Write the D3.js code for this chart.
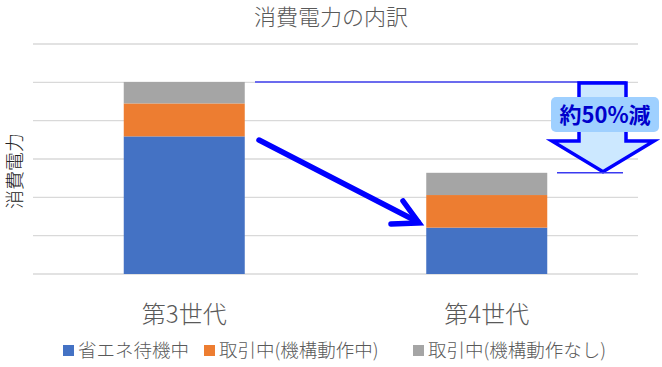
<!DOCTYPE html>
<html>
<head>
<meta charset="utf-8">
<script src="https://cdn.jsdelivr.net/npm/d3@7"></script>
<style>
  body { margin: 0; background: #fff; }
  svg text { font-family: "Noto Sans CJK JP", "Noto Sans", sans-serif; }
</style>
</head>
<body>
<svg id="canvas" width="662" height="367"></svg>
<script>
// chart data
let categories = ['第3世代', '第4世代']
let seriesNames = ['省エネ待機中', '取引中(機構動作中)', '取引中(機構動作なし)']
let standby = [3.59, 1.21]
let moving = [0.86, 0.85]
let idle = [0.56, 0.58]
let yTicks = [0, 1, 2, 3, 4, 5, 6]

let colors = ['#4472C4', '#ED7D31', '#A5A5A5']
let textColor = '#595959'

let svg = d3.select('#canvas')

let x = d3.scaleBand()
    .domain(categories)
    .range([33, 638])
    .paddingInner(0.6)
    .paddingOuter(0.3)

let y = d3.scaleLinear()
    .domain([0, 6])
    .range([274, 44])

// gridlines
svg.append('g')
    .selectAll('line')
    .data(yTicks)
    .enter()
    .append('line')
    .attr('x1', 33)
    .attr('x2', 638)
    .attr('y1', d => y(d))
    .attr('y2', d => y(d))
    .attr('stroke', '#d9d9d9')
    .attr('stroke-width', 1.3)

// stack the series
let table = categories.map((c, i) => ({ cat: c, s0: standby[i], s1: moving[i], s2: idle[i] }))
let stacked = d3.stack().keys(['s0', 's1', 's2'])(table)

svg.append('g')
    .selectAll('g')
    .data(stacked)
    .enter()
    .append('g')
    .attr('fill', (d, i) => colors[i])
    .selectAll('rect')
    .data(d => d)
    .enter()
    .append('rect')
    .attr('x', d => x(d.data.cat))
    .attr('width', x.bandwidth())
    .attr('y', d => y(d[1]))
    .attr('height', d => y(d[0]) - y(d[1]))

// title
svg.append('text')
    .attr('x', 331)
    .attr('y', 25)
    .attr('text-anchor', 'middle')
    .attr('font-size', 22)
    .attr('font-weight', 300)
    .attr('fill', textColor)
    .text('消費電力の内訳')

// y axis title
svg.append('text')
    .attr('transform', 'translate(22,171) rotate(-90)')
    .attr('text-anchor', 'middle')
    .attr('font-size', 19)
    .attr('font-weight', 300)
    .attr('fill', '#222')
    .text('消費電力')

// category labels
svg.append('g')
    .selectAll('text')
    .data(categories)
    .enter()
    .append('text')
    .attr('x', d => x(d) + x.bandwidth() / 2)
    .attr('y', 323)
    .attr('text-anchor', 'middle')
    .attr('font-size', 24)
    .attr('font-weight', 300)
    .attr('fill', textColor)
    .text(d => d)

// legend
let legendX = [63, 204, 413]
let legend = svg.append('g')
    .selectAll('g')
    .data(seriesNames)
    .enter()
    .append('g')
    .attr('transform', (d, i) => 'translate(' + legendX[i] + ',0)')
legend.append('rect')
    .attr('x', 0)
    .attr('y', 345)
    .attr('width', 11)
    .attr('height', 11)
    .attr('fill', (d, i) => colors[i])
legend.append('text')
    .attr('x', 15)
    .attr('y', 357)
    .attr('font-size', 18.5)
    .attr('font-weight', 300)
    .attr('fill', textColor)
    .text(d => d)

// annotations
let top3 = standby[0] + moving[0] + idle[0]
let top4 = standby[1] + moving[1] + idle[1]

svg.append('line')
    .attr('x1', 255)
    .attr('x2', 626)
    .attr('y1', y(top3))
    .attr('y2', y(top3))
    .attr('stroke', '#6b6bee')
    .attr('stroke-width', 2)

// big diagonal arrow
svg.append('line')
    .attr('x1', 259).attr('y1', 140)
    .attr('x2', 418).attr('y2', 222)
    .attr('stroke', '#0000ff')
    .attr('stroke-width', 5.5)
    .attr('stroke-linecap', 'round')
svg.append('polyline')
    .attr('points', '403,201 419,223 391,224')
    .attr('fill', 'none')
    .attr('stroke', '#0000ff')
    .attr('stroke-width', 5.5)
    .attr('stroke-linecap', 'round')
    .attr('stroke-linejoin', 'miter')

// down arrow showing reduction
let aTop = y(top3) + 1
let aTip = y(top4) - 1
let aHead = 141
let arrowPts = [
    [579, aTop], [626, aTop], [626, aHead], [654, aHead],
    [603, aTip], [552, aHead], [579, aHead]
]
svg.append('polygon')
    .attr('points', arrowPts.map(p => p.join(',')).join(' '))
    .attr('fill', '#cce8ff')
    .attr('stroke', '#0000ff')
    .attr('stroke-width', 3.5)

svg.append('line')
    .attr('x1', 557)
    .attr('x2', 623)
    .attr('y1', y(top4))
    .attr('y2', y(top4))
    .attr('stroke', '#3a3af0')
    .attr('stroke-width', 1.5)

svg.append('rect')
    .attr('x', 551)
    .attr('y', 97)
    .attr('width', 108)
    .attr('height', 35)
    .attr('rx', 5)
    .attr('fill', '#9fd0ff')
svg.append('text')
    .attr('x', 605)
    .attr('y', 123)
    .attr('text-anchor', 'middle')
    .attr('font-size', 22)
    .attr('font-weight', 'bold')
    .attr('fill', '#0000cc')
    .text('約50%減')
</script>
</body>
</html>
